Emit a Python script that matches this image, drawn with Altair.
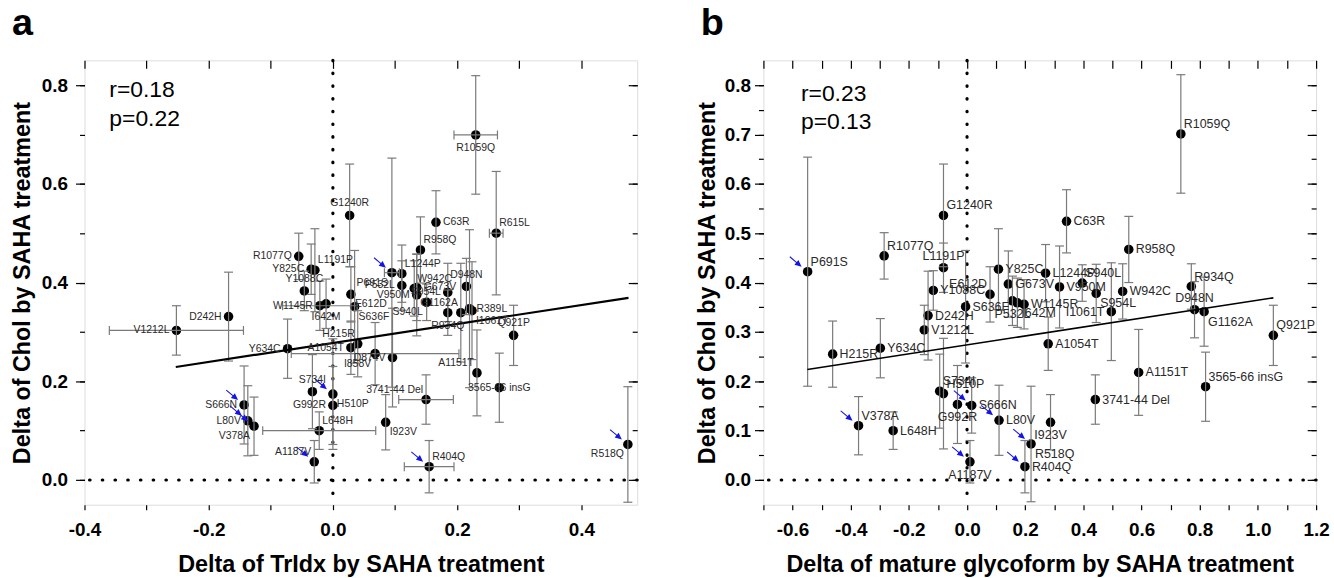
import altair as alt
import pandas as pd

FONT = "Liberation Sans"

# ---------------- Panel a : Delta TrIdx vs Delta Chol ----------------
a_names = ["R1059Q", "R615L", "C63R", "R958Q", "G1240R", "R1077Q", "Y825C", "L1191P",
           "Y1088C", "W1145R", "I642M", "E612D", "S636F", "P691S", "L1244P", "P532L",
           "W942C", "G673V", "V950M", "S940L", "S954L", "D948N", "R934Q", "G1162A",
           "R389L", "I1061T", "Q921P", "H215R", "A1054T", "I858V", "D874V", "Y634C",
           "D242H", "V1212L", "S666N", "L80V", "V378A", "S734I", "H510P", "G992R",
           "L648H", "A1187V", "I923V", "3741-44 Del", "R404Q", "A1151T", "3565-66 insG", "R518Q"]
a_x = [0.230, 0.263, 0.166, 0.141, 0.027, -0.055, -0.035, -0.029,
       -0.046, -0.021, -0.011, 0.029, 0.035, 0.095, 0.111, 0.111,
       0.131, 0.135, 0.135, 0.151, 0.185, 0.215, 0.185, 0.206,
       0.220, 0.224, 0.291, 0.040, 0.029, 0.068, 0.096, -0.073,
       -0.168, -0.252, -0.143, -0.137, -0.127, -0.033, 0.000, 0.000,
       -0.022, -0.030, 0.085, 0.150, 0.155, 0.232, 0.268, 0.475]
a_y = [0.699, 0.500, 0.522, 0.466, 0.536, 0.453, 0.427, 0.425,
       0.383, 0.353, 0.357, 0.376, 0.351, 0.420, 0.418, 0.394,
       0.388, 0.390, 0.375, 0.360, 0.380, 0.392, 0.339, 0.339,
       0.347, 0.343, 0.293, 0.276, 0.268, 0.256, 0.248, 0.266,
       0.331, 0.303, 0.152, 0.120, 0.109, 0.179, 0.174, 0.151,
       0.100, 0.037, 0.117, 0.163, 0.027, 0.217, 0.187, 0.072]
a_yerr = [0.120, 0.125, 0.064, 0.067, 0.104, 0.047, 0.051, 0.084,
          0.040, 0.050, 0.050, 0.056, 0.114, 0.232, 0.058, 0.050,
          0.056, 0.067, 0.083, 0.037, 0.059, 0.057, 0.046, 0.100,
          0.160, 0.099, 0.061, 0.067, 0.054, 0.063, 0.100, 0.060,
          0.090, 0.050, 0.079, 0.071, 0.059, 0.075, 0.112, 0.079,
          0.038, 0.043, 0.056, 0.050, 0.053, 0.087, 0.070, 0.117]
a_xerr = [0.035, 0.011, 0, 0, 0, 0, 0, 0,
          0, 0.060, 0, 0, 0, 0.012, 0, 0,
          0, 0, 0, 0, 0, 0, 0, 0,
          0, 0, 0, 0, 0, 0.135, 0, 0,
          0, 0.108, 0, 0, 0, 0, 0, 0,
          0.091, 0, 0, 0.044, 0.040, 0, 0, 0]
a_label_side = ["b", "tr", "r", "tr", "t", "l", "l", "tr",
                "t", "l", "b", "br", "br", "bl", "tr", "l",
                "tr", "r", "l", "bl", "l", "t", "b", "tl",
                "r", "br", "t", "tl", "l", "bl", "l", "l",
                "l", "l", "l", "l", "bl", "t", "br", "l",
                "tr", "tl", "br", "tl", "tr", "tl", "c", "bl"]
a_arrows = ["S666N", "L80V", "V378A", "H510P", "A1187V", "P691S", "R404Q", "R518Q"]
a_fit_x = [-0.253, 0.476]
a_fit_y = [0.229, 0.369]
a_stats = ["r=0.18", "p=0.22"]
a_stats_x = [-0.360, -0.360]
a_stats_y = [0.775, 0.717]

# ---------------- Panel b : Delta mature glycoform vs Delta Chol ----------------
b_names = ["R1059Q", "C63R", "R958Q", "G1240R", "R1077Q", "L1191P", "P691S", "Y825C",
           "E612D", "Y1088C", "S636F", "D242H", "V1212L", "H215R", "Y634C", "S734I",
           "H510P", "G992R", "S666N", "V378A", "L648H", "A1187V", "L80V", "I923V",
           "R518Q", "R404Q", "3741-44 Del", "A1151T", "3565-66 insG", "Q921P", "A1054T", "D948N",
           "G1162A", "R934Q", "I1061T", "W942C", "S954L", "S940L", "V950M", "L1244P",
           "G673V", "P532L", "I642M", "W1145R"]
b_x = [0.735, 0.342, 0.556, -0.081, -0.285, -0.081, -0.548, 0.108,
       0.079, -0.116, -0.005, -0.134, -0.147, -0.462, -0.298, -0.094,
       -0.081, -0.033, 0.016, -0.373, -0.254, 0.010, 0.110, 0.287,
       0.220, 0.199, 0.441, 0.590, 0.820, 1.053, 0.279, 0.782,
       0.815, 0.771, 0.496, 0.535, 0.444, 0.396, 0.318, 0.270,
       0.142, 0.156, 0.173, 0.196]
b_y = [0.701, 0.524, 0.467, 0.536, 0.454, 0.430, 0.422, 0.427,
       0.376, 0.384, 0.351, 0.333, 0.304, 0.255, 0.267, 0.180,
       0.175, 0.153, 0.151, 0.110, 0.100, 0.037, 0.121, 0.117,
       0.073, 0.027, 0.163, 0.218, 0.189, 0.293, 0.276, 0.345,
       0.341, 0.392, 0.341, 0.382, 0.378, 0.399, 0.391, 0.419,
       0.397, 0.363, 0.359, 0.356]
b_yerr = [0.120, 0.064, 0.067, 0.104, 0.047, 0.050, 0.232, 0.082,
          0.056, 0.040, 0.114, 0.090, 0.050, 0.067, 0.060, 0.075,
          0.112, 0.079, 0.056, 0.059, 0.038, 0.043, 0.071, 0.056,
          0.117, 0.053, 0.050, 0.087, 0.070, 0.061, 0.054, 0.057,
          0.070, 0.046, 0.099, 0.056, 0.059, 0.037, 0.083, 0.058,
          0.067, 0.050, 0.050, 0.050]
b_xerr = [0] * len(b_names)
b_label_side = ["tr", "r", "r", "tr", "tr", "t", "tr", "r",
                "tl", "r", "r", "r", "r", "r", "r", "tr",
                "tr", "b", "r", "tr", "r", "b", "r", "b",
                "br", "r", "r", "r", "tr", "tr", "r", "t",
                "br", "tr", "l", "r", "br", "tr", "r", "r",
                "r", "b", "br", "r"]
b_arrows = ["P691S", "V378A", "S666N", "L80V", "A1187V", "R518Q", "R404Q"]
b_fit_x = [-0.549, 1.053]
b_fit_y = [0.224, 0.369]
b_stats = ["r=0.23", "p=0.13"]
b_stats_x = [-0.571, -0.571]
b_stats_y = [0.768, 0.710]

Y_TITLE = "Delta of Chol by SAHA treatment"
EB = "#7a7a7a"
ARROW = "M-1,-0.07L0.12,-0.07L0.12,-0.4L1,0L0.12,0.4L0.12,0.07L-1,0.07Z"
PW, PH = 556, 447

SIDES = {
    "r": dict(align="left", dx=7, dy=0),
    "l": dict(align="right", dx=-7, dy=0),
    "t": dict(align="center", dx=0, dy=-12),
    "b": dict(align="center", dx=0, dy=13),
    "tr": dict(align="left", dx=3, dy=-10),
    "tl": dict(align="right", dx=-3, dy=-10),
    "br": dict(align="left", dx=4, dy=10),
    "bl": dict(align="right", dx=-4, dy=10),
    "c": dict(align="center", dx=0, dy=0),
}


def make_df(names, xs, ys, yerr, xerr, sides, arrows):
    df = pd.DataFrame({"name": names, "x": xs, "y": ys, "yerr": yerr,
                       "xerr": xerr, "side": sides})
    df["ylo"] = df["y"] - df["yerr"]
    df["yhi"] = df["y"] + df["yerr"]
    df["xlo"] = df["x"] - df["xerr"]
    df["xhi"] = df["x"] + df["xerr"]
    df["arrow"] = df["name"].isin(arrows)
    return df


def fmt_expr(step_mod):
    return ("round(datum.value*10) % " + str(step_mod) + " == 0 ? "
            "replace(format(datum.value, '.1f'), '\u2212', '-') : ''")


def panel(df, fit_x, fit_y, stats, stats_x, stats_y, xdom, xticks, xmod,
          ymajor, yminor, ymod, xtitle, letter, letter_dx, label_size,
          fit_width, ylabel_pad, ytitle_x):
    ydom = [-0.05, 0.85]

    def X(field, axis=None):
        return alt.X(field, type="quantitative",
                     scale=alt.Scale(domain=xdom, nice=False, zero=False), axis=axis)

    def Y(field, axis=None):
        return alt.Y(field, type="quantitative",
                     scale=alt.Scale(domain=ydom, nice=False, zero=False), axis=axis)

    ax_bottom = alt.Axis(orient="bottom", values=xticks, labelExpr=fmt_expr(xmod),
                         tickSize=5, tickWidth=1.2, tickColor="black", domain=False,
                         grid=False, labelFont=FONT, labelFontSize=19,
                         labelFontWeight="bold", labelColor="black", labelPadding=11,
                         labelFlush=False, labelOverlap=False,
                         title=xtitle, titleFont=FONT, titleFontSize=23.5,
                         titleFontWeight="bold", titleColor="black", titlePadding=13)
    ax_top = alt.Axis(orient="top", values=xticks, labels=False, tickSize=8,
                      tickWidth=1.2, tickColor="black", offset=-8, domain=False,
                      grid=False, title=None)
    ax_left = alt.Axis(orient="left", values=ymajor, labelExpr=fmt_expr(ymod),
                       tickSize=9, tickWidth=1.2, tickColor="black", domain=False,
                       grid=False, labelFont=FONT, labelFontSize=19,
                       labelFontWeight="bold", labelColor="black",
                       labelPadding=ylabel_pad, labelFlush=False, labelOverlap=False,
                       title=Y_TITLE, titleFont=FONT, titleFontSize=23.5,
                       titleFontWeight="bold", titleColor="black",
                       titleX=ytitle_x, titleY=PH / 2, titleAngle=270,
                       titleAlign="center", titleBaseline="middle")
    ax_left_minor = alt.Axis(orient="left", values=yminor, labels=False, tickSize=5,
                             tickWidth=1.2, tickColor="black", domain=False,
                             grid=False, title=None)
    ax_right = alt.Axis(orient="right", values=ymajor, labels=False, tickSize=9,
                        tickWidth=1.2, tickColor="black", offset=-9, domain=False,
                        grid=False, title=None)
    ax_right_minor = alt.Axis(orient="right", values=yminor, labels=False, tickSize=5,
                              tickWidth=1.2, tickColor="black", offset=-5,
                              domain=False, grid=False, title=None)

    base = alt.Chart(df)
    zero = pd.DataFrame({"v": [0.0]})
    fit = pd.DataFrame({"x": fit_x, "y": fit_y})
    st = pd.DataFrame({"t": stats, "x": stats_x, "y": stats_y})

    vzero = alt.Chart(zero).mark_rule(color="black", strokeWidth=3.2, strokeCap="round",
                                      strokeDash=[0.5, 12.3]).encode(x=X("v:Q", ax_top))
    hzero = alt.Chart(zero).mark_rule(color="black", strokeWidth=3.2, strokeCap="round",
                                      strokeDash=[0.5, 12.3]).encode(y=Y("v:Q", ax_right))

    ybar = base.mark_rule(color=EB, strokeWidth=1.2).encode(
        x=X("x:Q"), y=Y("ylo:Q", ax_left_minor), y2="yhi:Q")
    ycap_lo = base.mark_tick(orient="horizontal", size=9, thickness=1.2, color=EB,
                             opacity=1).encode(x=X("x:Q"), y=Y("ylo:Q"))
    ycap_hi = base.mark_tick(orient="horizontal", size=9, thickness=1.2, color=EB,
                             opacity=1).encode(x=X("x:Q"), y=Y("yhi:Q"))
    xb = base.transform_filter("datum.xerr > 0")
    xbar = xb.mark_rule(color=EB, strokeWidth=1.2).encode(
        x=X("xlo:Q"), x2="xhi:Q", y=Y("y:Q"))
    xcap_lo = xb.mark_tick(orient="vertical", size=9, thickness=1.2, color=EB,
                           opacity=1).encode(x=X("xlo:Q"), y=Y("y:Q"))
    xcap_hi = xb.mark_tick(orient="vertical", size=9, thickness=1.2, color=EB,
                           opacity=1).encode(x=X("xhi:Q"), y=Y("y:Q"))

    fitline = alt.Chart(fit).mark_line(color="black", strokeWidth=fit_width).encode(
        x=X("x:Q"), y=Y("y:Q", ax_right_minor))

    pts = base.mark_circle(size=92, color="black", opacity=1).encode(
        x=X("x:Q", ax_bottom), y=Y("y:Q", ax_left))

    arrows = base.transform_filter("datum.arrow").mark_point(
        shape=ARROW, filled=True, color="#1414e6", size=240, angle=40,
        xOffset=-12, yOffset=-10, opacity=1, strokeWidth=0).encode(
        x=X("x:Q"), y=Y("y:Q"))

    labels = []
    for side, props in SIDES.items():
        labels.append(
            base.transform_filter(alt.datum.side == side).mark_text(
                baseline="middle", font=FONT, fontSize=label_size, color="#2a2a2a",
                **props).encode(x=X("x:Q"), y=Y("y:Q"), text="name:N"))

    stats_txt = alt.Chart(st).mark_text(align="left", baseline="alphabetic", font=FONT,
                                        fontSize=23, color="black").encode(
        x=X("x:Q"), y=Y("y:Q"), text="t:N")

    letter_txt = alt.Chart(pd.DataFrame({"t": [letter]})).mark_text(
        align="left", baseline="alphabetic", font=FONT, fontSize=38,
        fontWeight="bold", color="black").encode(
        x=alt.value(letter_dx), y=alt.value(-26), text="t:N")

    layers = [pts, vzero, hzero, ybar, ycap_lo, ycap_hi, xbar, xcap_lo, xcap_hi,
              fitline, arrows] + labels + [stats_txt, letter_txt]
    return alt.layer(*layers).resolve_axis(x="independent", y="independent").properties(
        width=PW, height=PH)


dfa = make_df(a_names, a_x, a_y, a_yerr, a_xerr, a_label_side, a_arrows)
dfb = make_df(b_names, b_x, b_y, b_yerr, b_xerr, b_label_side, b_arrows)

a_xticks = [i / 10 for i in range(-4, 5)]
b_xticks = [i / 10 for i in range(-7, 13)]
a_ymajor = [i / 10 for i in range(0, 9, 2)]
a_yminor = [i / 10 for i in range(0, 9)]
b_ymajor = [i / 10 for i in range(0, 9)]
b_yminor = [i / 20 for i in range(0, 17)]

pa = panel(dfa, a_fit_x, a_fit_y, a_stats, a_stats_x, a_stats_y, [-0.4, 0.49], a_xticks, 2,
           a_ymajor, a_yminor, 2, "Delta of TrIdx by SAHA treatment", "a", -73, 10.5, 2.2,
           8, -62)
pb = panel(dfb, b_fit_x, b_fit_y, b_stats, b_stats_x, b_stats_y, [-0.7, 1.2], b_xticks, 2,
           b_ymajor, b_yminor, 1, "Delta of mature glycoform by SAHA treatment", "b", -63,
           12.5, 1.6, 4, -56)

chart = alt.hconcat(pa, pb, spacing=55).properties(
    padding={"left": 10, "top": 2, "right": 4, "bottom": 0}
).configure_view(stroke="black", strokeWidth=1.5).configure(background="white")

chart.save("out.html", embed_options={"renderer": "svg", "actions": False})
